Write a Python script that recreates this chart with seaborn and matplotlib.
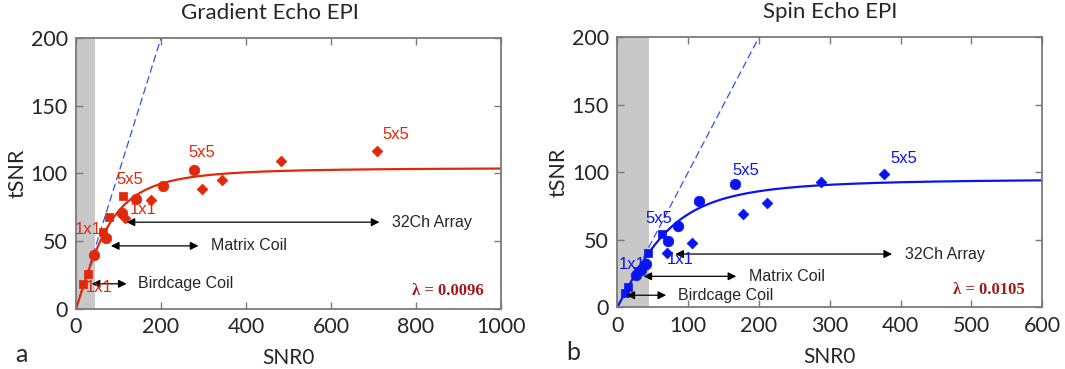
import numpy as np
import pandas as pd
import matplotlib
matplotlib.use("Agg")
import matplotlib.pyplot as plt
import seaborn as sns

sns.set_style("white")
plt.rcParams['font.family'] = ['Lato', 'DejaVu Sans']

# ---------------- data ----------------
titles = ["Gradient Echo EPI", "Spin Echo EPI"]
panel_letters = ["a", "b"]
lambdas = [0.0096, 0.0105]
lambda_labels = ["λ = 0.0096", "λ = 0.0105"]
x_max = [1000, 600]
x_step = [200, 100]
y_ticks = [0, 50, 100, 150, 200]
shade_max = 45
identity = [0, 200]

# Gradient echo (a)
ge_sq_x = [17, 27, 63, 78, 110]
ge_sq_y = [18.5, 26, 57, 67.5, 83]
ge_ci_x = [43, 71, 108, 141, 204, 278]
ge_ci_y = [40, 52, 70.6, 81.4, 90.8, 102.8]
ge_di_x = [116, 176, 297, 343, 482, 709]
ge_di_y = [67, 80.4, 88.8, 95.4, 109, 116.4]

# Spin echo (b)
se_sq_x = [11, 15, 29, 44, 63]
se_sq_y = [10.5, 15, 27, 40, 54]
se_ci_x = [26, 33, 40, 71, 86, 115, 166]
se_ci_y = [24, 28, 32, 49, 60, 79, 91]
se_di_x = [70, 106, 178, 211, 288, 377]
se_di_y = [40, 48, 69, 77, 93, 99]

# coil-range arrows: (label, x_start, x_end, y)
ge_arrows = [("Birdcage Coil", 37, 119, 18.5), ("Matrix Coil", 82, 288, 46.5), ("32Ch Array", 119, 714, 64)]
se_arrows = [("Birdcage Coil", 13, 69, 9), ("Matrix Coil", 37, 168, 23), ("32Ch Array", 82, 388, 39.5)]

# point labels: (text, x, y)
ge_labels = [("1x1", 22, 10), ("1x1", -2, 53), ("5x5", 95, 90), ("1x1", 127, 68), ("5x5", 265, 110), ("5x5", 720, 123)]
se_labels = [("1x1", 2, 26), ("5x5", 40, 60), ("1x1", 70, 30), ("5x5", 163, 96), ("5x5", 385, 105)]

colors = ["#E0280A", "#0A14F0"]
lam_color = "#A01818"

panels = [
    dict(sq=(ge_sq_x, ge_sq_y), ci=(ge_ci_x, ge_ci_y), di=(ge_di_x, ge_di_y), arrows=ge_arrows, labels=ge_labels),
    dict(sq=(se_sq_x, se_sq_y), ci=(se_ci_x, se_ci_y), di=(se_di_x, se_di_y), arrows=se_arrows, labels=se_labels),
]

fig = plt.figure(figsize=(10.65, 3.69), dpi=100)
axes_rects = [[0.0714, 0.163, 0.399, 0.734], [0.5796, 0.167, 0.399, 0.732]]
title_x = [0.456, 0.5]
spine_col = "#7a7a7a"

for i, p in enumerate(panels):
    ax = fig.add_axes(axes_rects[i])
    col = colors[i]
    ax.axvspan(0, shade_max, color="#c8c8c8", lw=0, zorder=0)
    # identity line
    ax.plot(identity, identity, ls=(0, (6, 3)), color="#3050F0", lw=0.9, zorder=1)
    # fit curve tSNR = SNR0 / sqrt(1 + lambda^2 SNR0^2)
    s0 = np.linspace(0, x_max[i], 500)
    fit = pd.DataFrame({"x": s0, "y": s0 / np.sqrt(1 + (lambdas[i] * s0) ** 2)})
    sns.lineplot(data=fit, x="x", y="y", ax=ax, color=col, lw=1.6, zorder=2)
    for key, mk, sz in [("sq", "s", 32), ("ci", "o", 58), ("di", "D", 30)]:
        xs, ys = p[key]
        df = pd.DataFrame({"x": xs, "y": ys})
        sns.scatterplot(data=df, x="x", y="y", ax=ax, marker=mk, s=sz, color=col,
                        edgecolor=col, linewidth=0.5, zorder=3)
    for lab, x0, x1, y in p["arrows"]:
        ax.annotate("", xy=(x1, y), xytext=(x0, y),
                    arrowprops=dict(arrowstyle="<|-|>", color="black", lw=0.9,
                                    mutation_scale=12, shrinkA=0, shrinkB=0), zorder=4)
        ax.text(x1 + (0.03 if lab != "Birdcage Coil" else 0.027) * x_max[i], y, lab,
                fontsize=11.5, family="Liberation Sans", va="center", ha="left")
    for lab, x, y in p["labels"]:
        ax.text(x, y, lab, fontsize=12, family="Liberation Sans", color=col,
                va="bottom", ha="left", zorder=5)
    ax.text(0.96, 0.065, lambda_labels[i], transform=ax.transAxes, ha="right", va="center",
            fontsize=12, fontweight="bold", family="Liberation Serif", color=lam_color)

    ax.set_xlim(0, x_max[i])
    ax.set_ylim(0, 200)
    ax.set_xticks(np.arange(0, x_max[i] + 1, x_step[i]))
    ax.set_yticks(y_ticks)
    ax.tick_params(direction="in", length=5, width=1, color=spine_col, labelsize=15.5,
                   top=True, right=True, bottom=True, left=True, pad=6)
    for sp in ax.spines.values():
        sp.set_color(spine_col)
        sp.set_linewidth(1.3)
        sp.set_visible(True)
    ax.set_xlabel("SNR0", fontsize=15, labelpad=8)
    ax.set_ylabel("tSNR", fontsize=15.5, labelpad=2)
    ax.text(title_x[i], 1.092, titles[i], transform=ax.transAxes, ha="center", va="center", fontsize=16)

fig.text(21 / 1065, 1 - 354 / 369, panel_letters[0], fontsize=18, ha="center", va="center")
fig.text(573 / 1065, 1 - 352 / 369, panel_letters[1], fontsize=18, ha="center", va="center")

fig.savefig("out.png", dpi=100)
